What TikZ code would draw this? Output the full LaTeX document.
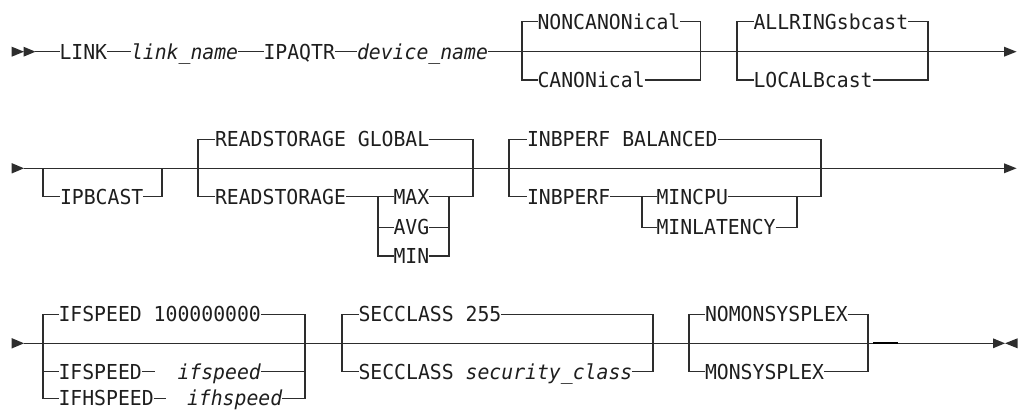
\documentclass[tikz,border=0pt]{standalone}
\usepackage{fontspec}
\newfontfamily\railfont[FakeStretch=0.96]{DejaVu Sans Mono}
\definecolor{railgray}{RGB}{45,45,45}
\definecolor{railtext}{RGB}{30,30,30}
\tikzset{
  rail/.style={draw=railgray, line width=1.1pt},
  kw/.style={inner sep=0pt, outer sep=0pt, anchor=west, text height=15pt, text depth=0pt,
             text=railtext, font=\railfont\fontsize{20.6}{22}\selectfont},
  var/.style={kw, font=\railfont\itshape\fontsize{20.6}{22}\selectfont},
  tip/.style={fill=railgray, draw=none},
}
\begin{document}
\begin{tikzpicture}[x=1pt,y=-1pt]
\useasboundingbox (0,0) rectangle (1019,411);

% ---------------- first line ----------------
\def\ya{51.7}
\fill[tip] (11.7,\ya-5) -- (24,\ya) -- (11.7,\ya+5) -- cycle;
\fill[tip] (23.5,\ya-5) -- (35.5,\ya) -- (23.5,\ya+5) -- cycle;
\coordinate (s1) at (35,\ya);
\node[kw]  (link)    at (59.5,\ya)  {LINK};
\node[var] (lname)   at (131,\ya)   {link\_name};
\node[kw]  (ipaqtr)  at (263.5,\ya) {IPAQTR};
\node[var] (devname) at (357,\ya)   {device\_name};
\coordinate (e1) at (1004,\ya);
\fill[tip] (1004,\ya-5) -- (1016.5,\ya) -- (1004,\ya+5) -- cycle;
\draw[rail] (s1) -- (link.west);
\draw[rail] (link.east) -- (lname.west);
\draw[rail] (lname.east) -- (ipaqtr.west);
\draw[rail] (ipaqtr.east) -- (devname.west);
\draw[rail] (devname.east) -- (e1);

% NONCANONical / CANONical
\coordinate (c1l) at (522,\ya);
\coordinate (c1r) at (700.5,\ya);
\node[kw] (noncan) at (537.5,21.7) {NONCANONical};
\node[kw] (canon)  at (537.5,80)   {CANONical};
\draw[rail] (c1l) |- (noncan.west);
\draw[rail] (c1l) |- (canon.west);
\draw[rail] (noncan.east) -| (c1r);
\draw[rail] (canon.east) -| (c1r);

% ALLRINGsbcast / LOCALBcast
\coordinate (c2l) at (737,\ya);
\coordinate (c2r) at (928,\ya);
\node[kw] (allring) at (753.5,21.7) {ALLRINGsbcast};
\node[kw] (localb)  at (753.5,80)   {LOCALBcast};
\draw[rail] (c2l) |- (allring.west);
\draw[rail] (c2l) |- (localb.west);
\draw[rail] (allring.east) -| (c2r);
\draw[rail] (localb.east) -| (c2r);

% ---------------- second line ----------------
\def\yb{168.3}
\fill[tip] (11.7,\yb-5.2) -- (24,\yb) -- (11.7,\yb+5.2) -- cycle;
\coordinate (s2) at (23.5,\yb);
\coordinate (e2) at (1004,\yb);
\fill[tip] (1004,\yb-5) -- (1016.5,\yb) -- (1004,\yb+5) -- cycle;
\draw[rail] (s2) -- (e2);

% IPBCAST
\coordinate (c3l) at (43,\yb);
\coordinate (c3r) at (162,\yb);
\node[kw] (ipbcast) at (60,196.7) {IPBCAST};
\draw[rail] (c3l) |- (ipbcast.west);
\draw[rail] (ipbcast.east) -| (c3r);

% READSTORAGE
\coordinate (c4l) at (198,\yb);
\coordinate (c4r) at (473,\yb);
\node[kw] (rsglobal) at (215,139.3) {READSTORAGE GLOBAL};
\node[kw] (rs)       at (215,196.7) {READSTORAGE};
\node[kw] (rsmax)    at (393.5,196.7) {MAX};
\node[kw] (rsavg)    at (393.5,227.3) {AVG};
\node[kw] (rsmin)    at (393.5,256)   {MIN};
\coordinate (c5l) at (378,196.7);
\coordinate (c5r) at (449,196.7);
\draw[rail] (c4l) |- (rsglobal.west);
\draw[rail] (c4l) |- (rs.west);
\draw[rail] (rsglobal.east) -| (c4r);
\draw[rail] (rs.east) -- (rsmax.west);
\draw[rail] (rsmax.east) -| (c4r);
\draw[rail] (c5l) |- (rsavg.west);
\draw[rail] (c5l) |- (rsmin.west);
\draw[rail] (rsavg.east) -| (c5r);
\draw[rail] (rsmin.east) -| (c5r);

% INBPERF
\coordinate (c6l) at (509,\yb);
\coordinate (c6r) at (821,\yb);
\node[kw] (ibbal)  at (527,139.3) {INBPERF BALANCED};
\node[kw] (ib)     at (527,196.7) {INBPERF};
\node[kw] (ibcpu)  at (656.5,196.7) {MINCPU};
\node[kw] (iblat)  at (656.5,227.3) {MINLATENCY};
\coordinate (c7l) at (642,196.7);
\coordinate (c7r) at (797,196.7);
\draw[rail] (c6l) |- (ibbal.west);
\draw[rail] (c6l) |- (ib.west);
\draw[rail] (ibbal.east) -| (c6r);
\draw[rail] (ib.east) -- (ibcpu.west);
\draw[rail] (ibcpu.east) -| (c6r);
\draw[rail] (c7l) |- (iblat.west);
\draw[rail] (iblat.east) -| (c7r);

% ---------------- third line ----------------
\def\yc{343.3}
\fill[tip] (11.7,\yc-5.2) -- (24,\yc) -- (11.7,\yc+5.2) -- cycle;
\coordinate (s3) at (23.5,\yc);
\coordinate (e3) at (993.5,\yc);
\fill[tip] (993,\yc-5) -- (1005,\yc) -- (993,\yc+5) -- cycle;
\fill[tip] (1017.5,\yc-5) -- (1005,\yc) -- (1017.5,\yc+5) -- cycle;
\draw[rail] (s3) -- (e3);
\coordinate (m3a) at (873,\yc);
\coordinate (m3b) at (898,\yc);
\draw[draw=black, line width=1.9pt] (m3a) -- (m3b);

% IFSPEED / IFHSPEED
\coordinate (c8l) at (43,\yc);
\coordinate (c8r) at (305,\yc);
\node[kw]  (ifdef)  at (58.5,314.3) {IFSPEED 100000000};
\node[kw]  (ifs)    at (58.5,371.7) {IFSPEED};
\coordinate (ifsgap) at (155,371.7);
\node[var] (ifsv)   at (177.5,371.7) {ifspeed};
\node[kw]  (ifh)    at (58.5,398.3) {IFHSPEED};
\coordinate (ifhgap) at (166,398.3);
\node[var] (ifhv)   at (187,398.3) {ifhspeed};
\draw[rail] (c8l) |- (ifdef.west);
\draw[rail] (c8l) |- (ifs.west);
\draw[rail] (c8l) |- (ifh.west);
\draw[rail] (ifdef.east) -| (c8r);
\draw[rail] (ifs.east) -- (ifsgap);
\draw[rail] (ifsv.east) -| (c8r);
\draw[rail] (ifh.east) -- (ifhgap);
\draw[rail] (ifhv.east) -| (c8r);

% SECCLASS
\coordinate (c9l) at (342,\yc);
\coordinate (c9r) at (653,\yc);
\node[kw] (secdef) at (358.5,314.3) {SECCLASS 255};
\node[kw] (secv)   at (358.5,371.7) {SECCLASS \textit{security\_class}};
\draw[rail] (c9l) |- (secdef.west);
\draw[rail] (c9l) |- (secv.west);
\draw[rail] (secdef.east) -| (c9r);
\draw[rail] (secv.east) -| (c9r);

% NOMONSYSPLEX / MONSYSPLEX
\coordinate (c10l) at (689,\yc);
\coordinate (c10r) at (868,\yc);
\node[kw] (nomon) at (705,314.3) {NOMONSYSPLEX};
\node[kw] (mon)   at (705,371.7) {MONSYSPLEX};
\draw[rail] (c10l) |- (nomon.west);
\draw[rail] (c10l) |- (mon.west);
\draw[rail] (nomon.east) -| (c10r);
\draw[rail] (mon.east) -| (c10r);
\end{tikzpicture}
\end{document}
